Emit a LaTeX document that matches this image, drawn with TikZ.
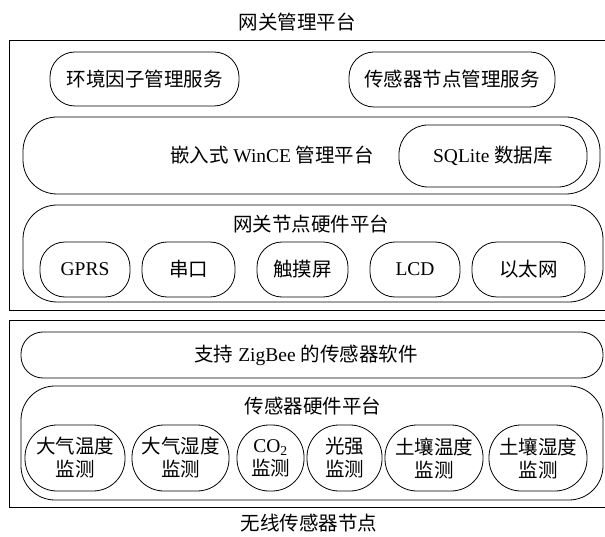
\documentclass[tikz,border=0pt]{standalone}
\usepackage{fontspec}
\setmainfont{Liberation Serif}
\newfontfamily\cjkfont{Noto Sans CJK SC}
\newcommand{\zh}[1]{{\cjkfont #1}}
\usetikzlibrary{positioning}

\begin{document}
\begin{tikzpicture}[x=1pt,y=-1pt,
  every node/.style={font=\fontsize{19.5}{23}\selectfont, align=center},
  frame/.style={draw, line width=1pt},
  pill/.style={draw, line width=0.8pt, rounded corners=25pt, inner sep=0pt},
  bigpill/.style={pill, rounded corners=34pt},
  flatpill/.style={pill, rounded corners=22pt},
  roundpill/.style={pill, rounded corners=32pt}]
\useasboundingbox (0,0) rectangle (605,537);

% gateway side
\node (gwtitle) at (297,22) {\zh{网关管理平台}};
\draw[frame] (9,41) rectangle (612,311);

\node[pill, minimum width=189pt, minimum height=54pt] (envsrv) at (144.5,79) {\zh{环境因子管理服务}};
\node[pill, minimum width=206pt, minimum height=55pt] (nodesrv) at (452,79.5) {\zh{传感器节点管理服务}};

\node[bigpill, minimum width=577pt, minimum height=77pt] (wince) at (311.5,155.5) {};
\node (wincetxt) at (272,155) {\zh{嵌入式} WinCE \zh{管理平台}};
\node[pill, rounded corners=29pt, minimum width=188pt, minimum height=62pt] (sqlite) at (493,156) {SQLite \zh{数据库}};

\node[bigpill, minimum width=580pt, minimum height=97pt] (gwhw) at (313,253.5) {};
\node (gwhwtxt) at (311,224) {\zh{网关节点硬件平台}};
\node[pill, minimum width=90pt, minimum height=55pt] (gprs) at (85,269.5) {GPRS};
\node[pill, minimum width=93pt, minimum height=55pt] (serial) at (188.5,269.5) {\zh{串口}};
\node[pill, minimum width=91pt, minimum height=55pt] (touch) at (302.5,269.5) {\zh{触摸屏}};
\node[pill, minimum width=90pt, minimum height=55pt] (lcd) at (415,269.5) {LCD};
\node[pill, minimum width=113pt, minimum height=55pt] (ether) at (528.5,269.5) {\zh{以太网}};

% sensor node side
\draw[frame] (9,321) rectangle (612,507);

\node[flatpill, minimum width=582pt, minimum height=46pt] (zigbee) at (312,355) {};
\node (zigbeetxt) at (306,355) {\zh{支持} ZigBee \zh{的传感器软件}};

\node[bigpill, minimum width=582pt, minimum height=114pt] (snhw) at (312,443) {};
\node (snhwtxt) at (313,406) {\zh{传感器硬件平台}};
\node[roundpill, minimum width=100pt, minimum height=66pt] (airtemp) at (75,458) {\zh{大气温度}\\\zh{监测}};
\node[roundpill, minimum width=97pt, minimum height=66pt] (airhum) at (180.5,458) {\zh{大气湿度}\\\zh{监测}};
\node[roundpill, minimum width=67pt, minimum height=66pt] (cotwo) at (270.5,458) {CO\textsubscript{2}\\\zh{监测}};
\node[roundpill, minimum width=75pt, minimum height=66pt] (light) at (344.5,458) {\zh{光强}\\\zh{监测}};
\node[roundpill, minimum width=98pt, minimum height=66pt] (soiltemp) at (434,458) {\zh{土壤温度}\\\zh{监测}};
\node[roundpill, minimum width=98pt, minimum height=66pt] (soilhum) at (538,458) {\zh{土壤湿度}\\\zh{监测}};

\node (wsntitle) at (309,523) {\zh{无线传感器节点}};
\end{tikzpicture}
\end{document}
